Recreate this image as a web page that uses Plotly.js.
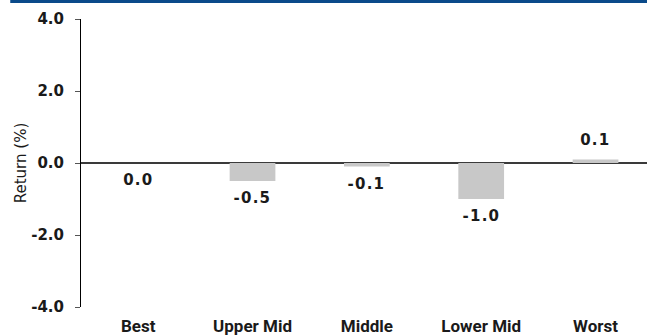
<!DOCTYPE html>
<html>
<head>
<meta charset="utf-8">
<script src="https://cdn.plot.ly/plotly-3.0.1.min.js"></script>
<style>
  html, body { margin: 0; padding: 0; background: #ffffff; }
  #chart { width: 647px; height: 335px; }
  /* slightly tracked-out value labels */
  #chart .annotation-text { letter-spacing: 1.2px; }
</style>
</head>
<body>
<div id="chart"></div>
<script>
// Return by quintile group
const categories = ["Best", "Upper Mid", "Middle", "Lower Mid", "Worst"];
const returns = [0.0, -0.5, -0.1, -1.0, 0.1];
const yTickValues = [-4, -2, 0, 2, 4];
const yTickLabels = ["-4.0", "-2.0", "0.0", "2.0", "4.0"];

const barColor = "#c8c8c8";
const textColor = "#1a1a1a";

const trace = {
  type: "bar",
  x: categories,
  y: returns,
  width: 0.4,
  marker: { color: barColor, line: { width: 0 } },
  hoverinfo: "skip"
};

// value labels sit just beyond the end of each bar
const valueLabels = categories.map((c, i) => ({
  x: c,
  y: returns[i],
  xref: "x",
  yref: "y",
  text: returns[i].toFixed(1),
  showarrow: false,
  yshift: returns[i] > 0 ? 19 : -17,
  font: { family: "DejaVu Sans", size: 15, weight: "bold", color: textColor }
}));

const layout = {
  width: 647,
  height: 335,
  margin: { l: 81, r: 0, t: 19, b: 28, pad: 0 },
  paper_bgcolor: "#ffffff",
  plot_bgcolor: "#ffffff",
  showlegend: false,
  bargap: 0.6,
  xaxis: {
    type: "category",
    range: [-0.5, 4.45],
    showline: false,
    showgrid: false,
    zeroline: false,
    ticks: "",
    ticklabelstandoff: 7,
    tickfont: { family: "Roboto", size: 17, weight: "bold", color: textColor },
    fixedrange: true
  },
  yaxis: {
    range: [-4, 4],
    tickvals: yTickValues,
    ticktext: yTickLabels,
    showline: true,
    linecolor: "#000000",
    linewidth: 1,
    ticks: "outside",
    ticklen: 5,
    tickwidth: 1,
    tickcolor: "#555555",
    ticklabelstandoff: 8,
    showgrid: false,
    zeroline: true,
    zerolinecolor: "#3a3a3a",
    zerolinewidth: 1.5,
    tickfont: { family: "DejaVu Sans", size: 15, weight: "bold", color: textColor },
    title: {
      text: "Return (%)",
      font: { family: "DejaVu Sans", size: 15, color: textColor },
      standoff: 0
    },
    fixedrange: true
  },
  shapes: [{
    type: "rect",
    xref: "paper",
    yref: "paper",
    x0: -0.125,
    x1: 1.01,
    y0: 1.0556,
    y1: 1.08,
    fillcolor: "#0a4a8a",
    line: { width: 0 },
    layer: "above"
  }],
  annotations: valueLabels
};

Plotly.newPlot("chart", [trace], layout, { displayModeBar: false, staticPlot: true });
</script>
</body>
</html>
